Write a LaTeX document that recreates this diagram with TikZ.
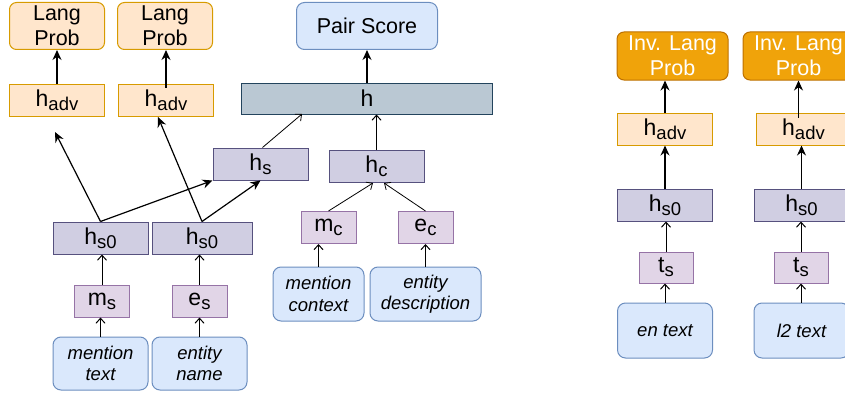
\documentclass[tikz,border=0pt]{standalone}
\usepackage{fontspec}
\setmainfont{Liberation Sans}
\usetikzlibrary{arrows.meta}

\definecolor{orgfill}{HTML}{FFE6CC}
\definecolor{orgline}{HTML}{D79B00}
\definecolor{invfill}{HTML}{F0A30A}
\definecolor{invline}{HTML}{BD7000}
\definecolor{txtfill}{HTML}{DAE8FC}
\definecolor{txtline}{HTML}{6C8EBF}
\definecolor{hidfill}{HTML}{D0CEE2}
\definecolor{hidline}{HTML}{56517E}
\definecolor{embfill}{HTML}{E1D5E7}
\definecolor{embline}{HTML}{9673A6}
\definecolor{bigfill}{HTML}{BAC8D3}
\definecolor{bigline}{HTML}{23445D}

\newcommand{\lsub}[1]{\raisebox{-4pt}{\fontsize{18.5}{18.5}\selectfont #1}}

\begin{document}
\begin{tikzpicture}[x=1pt,y=-1pt,
    font=\fontsize{21.5}{25}\selectfont,
    box/.style={line width=1pt, inner sep=0pt, align=center},
    lang/.style={box, draw=orgline, fill=orgfill, rounded corners=7pt, minimum width=95pt, minimum height=47pt},
    inv/.style={box, draw=invline, fill=invfill, text=white, rounded corners=7pt, minimum width=111pt, minimum height=48pt},
    adv/.style={box, draw=orgline, fill=orgfill, minimum width=95pt, minimum height=32pt, font=\fontsize{23}{25}\selectfont},
    hid/.style={box, draw=hidline, fill=hidfill, minimum width=95pt, minimum height=32pt, font=\fontsize{23}{25}\selectfont},
    emb/.style={box, draw=embline, fill=embfill, minimum width=55pt, minimum height=32pt, font=\fontsize{23}{25}\selectfont},
    txt/.style={box, draw=txtline, fill=txtfill, rounded corners=8pt, minimum width=95pt, minimum height=54pt,
                font=\itshape\fontsize{18.5}{21.5}\selectfont},
    fa/.style={-{Stealth[length=10pt,width=9pt]}, line width=1.2pt},
    oa/.style={-{Straight Barb[length=5pt,width=9pt]}, line width=1pt}]
    \useasboundingbox (0,0) rectangle (845,396);

    % left part
    \node[lang] (lpA) at (57,26) {Lang\\Prob};
    \node[lang] (lpB) at (165,26) {Lang\\Prob};
    \node[adv] (advA) at (57,100) {h\lsub{adv}};
    \node[adv] (advB) at (166,100) {h\lsub{adv}};
    \node[box, draw=txtline, fill=txtfill, rounded corners=8pt, minimum width=141pt, minimum height=47pt] (score) at (367,26) {Pair Score};
    \node[box, draw=bigline, fill=bigfill, minimum width=251pt, minimum height=31pt, font=\fontsize{23}{25}\selectfont] (hbig) at (367,98.5) {h};
    \node[hid] (hs) at (260.5,164) {h\lsub{s}};
    \node[hid] (hc) at (376.5,166.5) {h\lsub{c}};
    \node[emb] (mc) at (328.5,227.5) {m\lsub{c}};
    \node[emb] (ec) at (425.5,227.5) {e\lsub{c}};
    \node[txt, minimum width=91pt] (ctxA) at (318.5,294) {mention\\context};
    \node[txt, minimum width=111pt] (ctxB) at (425.5,294) {entity\\description};
    \node[hid] (sA) at (100.5,238) {h\lsub{s0}};
    \node[hid, minimum width=100pt] (sB) at (202,238) {h\lsub{s0}};
    \node[emb] (ms) at (102,301) {m\lsub{s}};
    \node[emb] (es) at (199.5,301) {e\lsub{s}};
    \node[txt, minimum height=53pt] (mt) at (100.5,363.5) {mention\\text};
    \node[txt, minimum height=53pt] (en) at (199.5,363.5) {entity\\name};

    \coordinate (tipA) at (55,132);
    \coordinate (tipB) at (158,117);
    \coordinate (tipH) at (302,114);
    \coordinate (tipCa) at (373,183);
    \coordinate (tipCb) at (384,183);

    \draw[fa] (advA.north) -- (lpA.south);
    \draw[fa] ([yshift=-4pt]advB.north) -- (advB.north |- lpB.south);
    \draw[fa] (sA.north) -- (tipA);
    \draw[fa] (sA.north) -- (hs.south west);
    \draw[fa] (sB.north) -- (tipB);
    \draw[fa] (sB.north) -- (hs.south);
    \draw[oa, line width=0.8pt] ([xshift=2pt]hs.north) -- (tipH);
    \draw[oa] (hc.north) -- (hc.north |- hbig.south);
    \draw[oa, line width=0.8pt] (mc.north) -- (tipCa);
    \draw[oa, line width=0.8pt] (ec.north) -- (tipCb);
    \draw[fa] (hbig.north) -- (score.south);
    \draw[oa] (ms.north) -- (ms.north |- sA.south);
    \draw[oa] (es.north) -- (es.north |- sB.south);
    \draw[oa] (mt.north) -- (mt.north |- ms.south);
    \draw[oa] (en.north) -- (en.north |- es.south);
    \draw[oa] (ctxA.north) -- (ctxA.north |- mc.south);
    \draw[oa] (ec.south |- ctxB.north) -- (ec.south);

    % right part
    \node[inv] (invA) at (672.5,56) {Inv. Lang\\Prob};
    \node[inv] (invB) at (798.5,56) {Inv. Lang\\Prob};
    \node[adv] (radvA) at (665,129) {h\lsub{adv}};
    \node[adv] (radvB) at (803.5,129) {h\lsub{adv}};
    \node[hid] (rsA) at (665,205) {h\lsub{s0}};
    \node[hid] (rsB) at (801.5,205) {h\lsub{s0}};
    \node[emb, minimum width=54pt, minimum height=31pt] (tsA) at (666,267.5) {t\lsub{s}};
    \node[emb, minimum width=54pt, minimum height=31pt] (tsB) at (801,267.5) {t\lsub{s}};
    \node[txt, minimum height=55pt] (enT) at (665,330.5) {en text};
    \node[txt, minimum height=55pt] (l2T) at (801.5,330.5) {l2 text};

    \draw[oa] (enT.north) -- (enT.north |- tsA.south);
    \draw[oa] (tsA.north) -- (tsA.north |- rsA.south);
    \draw[fa] (rsA.north) -- (radvA.south);
    \draw[fa] (radvA.north) -- (radvA.north |- invA.south);
    \draw[oa] (tsB.north |- l2T.north) -- (tsB.south);
    \draw[oa] (tsB.north) -- (tsB.north |- rsB.south);
    \draw[fa] (rsB.north) -- (rsB.north |- radvB.south);
    \draw[fa] ([xshift=-5pt,yshift=-5pt]radvB.north) -- ([xshift=-5pt]radvB.north |- invB.south);
\end{tikzpicture}
\end{document}
